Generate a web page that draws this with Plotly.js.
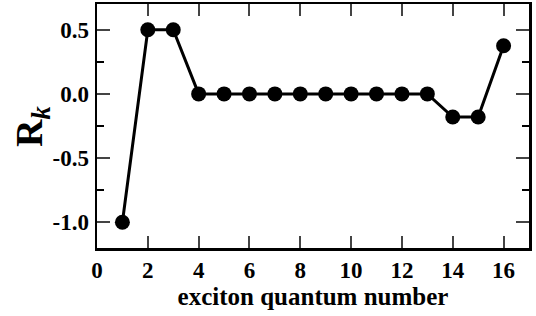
<!DOCTYPE html>
<html><head><meta charset="utf-8">
<script src="https://cdn.plot.ly/plotly-3.0.1.min.js"></script>
<style>body{margin:0;background:#fff}#c{width:536px;height:316px}</style>
</head><body><div id="c"></div>
<script>
const exciton = [1,2,3,4,5,6,7,8,9,10,11,12,13,14,15,16];
const Rk = [-1.0,0.5,0.5,0,0,0,0,0,0,0,0,0,0,-0.18,-0.18,0.375];
const xTicks = [0,2,4,6,8,10,12,14,16];
const yTicks = [-1.0,-0.5,0.0,0.5];
const yTickText = ["-1.0","-0.5","0.0","0.5"];
const fam = 'Liberation Serif';
function f(size){ return {family:fam, size:size, weight:700, color:'#000'}; }
Plotly.newPlot('c', [{
  x: exciton, y: Rk, mode:'lines+markers', type:'scatter',
  line:{color:'#000', width:3},
  marker:{color:'#000', size:15}
}], {
  width:536, height:316,
  margin:{l:97, r:7, t:4, b:68},
  paper_bgcolor:'#fff', plot_bgcolor:'#fff',
  showlegend:false,
  font: f(23),
  xaxis:{range:[0,17], tickvals:xTicks, ticks:'inside', ticklen:12, tickwidth:2,
    showline:true, linewidth:2.5, linecolor:'#000', mirror:'ticks', showgrid:false, zeroline:false,
    tickfont:f(23),
    title:{text:'<b>exciton quantum number</b>', font:f(25), standoff:6}},
  yaxis:{range:[-1.2,0.7], tickvals:yTicks, ticktext:yTickText, ticks:'inside', ticklen:13, tickwidth:2,
    minor:{tick0:0, dtick:0.25, ticks:'inside', ticklen:7, tickwidth:2, tickcolor:'#000'},
    showline:true, linewidth:2.5, linecolor:'#000', mirror:'ticks', showgrid:false, zeroline:false,
    tickfont:f(23), ticklabelstandoff:1},
  annotations:[{text:'<b>R<sub><i>k</i></sub></b>', font:f(38), textangle:-90,
    xref:'paper', yref:'paper', x:-0.152, y:0.497, xanchor:'center', yanchor:'middle', showarrow:false}]
}, {displayModeBar:false, staticPlot:true});
</script></body></html>
